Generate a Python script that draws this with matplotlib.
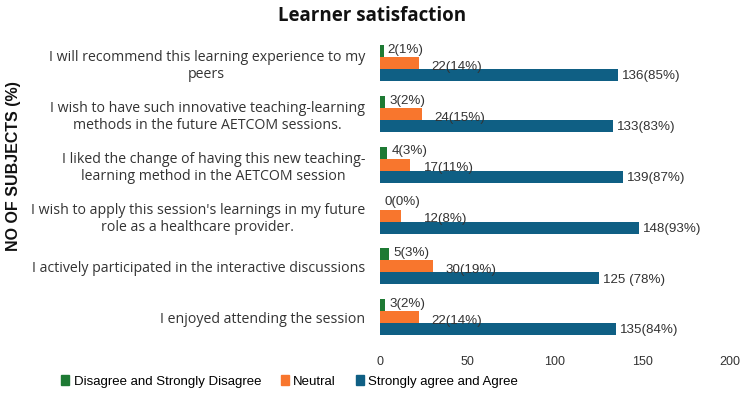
import numpy as np
import matplotlib
matplotlib.use("Agg")
import matplotlib.pyplot as plt
from matplotlib.patches import Patch

# data (bottom to top as drawn by barh)
statements = [
    "I enjoyed attending the session",
    "I actively participated in the interactive discussions",
    "I wish to apply this session's learnings in my future\nrole as a healthcare provider.",
    "I liked the change of having this new teaching-\nlearning method in the AETCOM session",
    "I wish to have such innovative teaching-learning\nmethods in the future AETCOM sessions.",
    "I will recommend this learning experience to my\npeers",
]
disagree = [3, 5, 0, 4, 3, 2]
neutral = [22, 30, 12, 17, 24, 22]
agree = [135, 125, 148, 139, 133, 136]
disagree_lbl = ["3(2%)", "5(3%)", "0(0%)", "4(3%)", "3(2%)", "2(1%)"]
neutral_lbl = ["22(14%)", "30(19%)", "12(8%)", "17(11%)", "24(15%)", "22(14%)"]
agree_lbl = ["135(84%)", "125 (78%)", "148(93%)", "139(87%)", "133(83%)", "136(85%)"]
series_names = ["Disagree and Strongly Disagree", "Neutral", "Strongly agree and Agree"]
xticks = [0, 50, 100, 150, 200]

green = "#1e7a34"
orange = "#f8762d"
blue = "#0f5f84"

plt.rcParams['font.family'] = ['Open Sans', 'DejaVu Sans']
arial = ['Liberation Sans', 'DejaVu Sans']

fig = plt.figure(figsize=(7.44, 3.99), dpi=100)
ax = fig.add_axes([0.511, 0.135, 0.47, 0.764])

y = np.arange(len(statements))
h = 0.236
ax.barh(y + h, disagree, height=h, color=green)
ax.barh(y, neutral, height=h, color=orange)
ax.barh(y - h, agree, height=h, color=blue)

for i in range(len(statements)):
    ax.annotate(disagree_lbl[i], (disagree[i], y[i] + h), xytext=(3, 1),
                textcoords="offset points", va="center", fontsize=9.6,
                color="#333333", family=arial)
    ax.annotate(neutral_lbl[i], (max(neutral[i], 18), y[i] - h * 0.3), xytext=(9, 0),
                textcoords="offset points", va="center", fontsize=9.6,
                color="#333333", family=arial)
    ax.annotate(agree_lbl[i], (agree[i], y[i] - h * 1.1), xytext=(3, 0),
                textcoords="offset points", va="center", fontsize=9.6,
                color="#333333", family=arial)

ax.set_xlim(0, 200)
ax.set_ylim(-0.55, 5.45)
ax.set_xticks(xticks)
ax.set_xticklabels([str(v) for v in xticks], family=arial, fontsize=9)
ax.set_yticks(y)
ax.set_yticklabels(statements, multialignment="center", fontsize=10.2, color="#333333")
ax.tick_params(axis="both", length=0, colors="#333333")
ax.tick_params(axis="x", pad=8)
ax.tick_params(axis="y", pad=11)
for s in ax.spines.values():
    s.set_visible(False)

fig.text(0.5, 0.96, "Learner satisfaction", ha="center", va="center",
         fontsize=13.5, fontweight="bold", color="#111111")
fig.text(0.018, 0.584, "NO OF SUBJECTS (%)", rotation=90, ha="center", va="center",
         fontsize=11.5, fontweight="bold", color="#111111", family=arial)

handles = [Patch(color=c) for c in (green, orange, blue)]
fig.legend(handles, series_names, loc="center left", bbox_to_anchor=(0.082, 0.045), ncol=3,
           frameon=False, prop={'family': arial, 'size': 9.5}, handlelength=0.6,
           handleheight=0.9, handletextpad=0.35, columnspacing=1.5, borderpad=0,
           borderaxespad=0)

fig.savefig("out.png", dpi=100)
